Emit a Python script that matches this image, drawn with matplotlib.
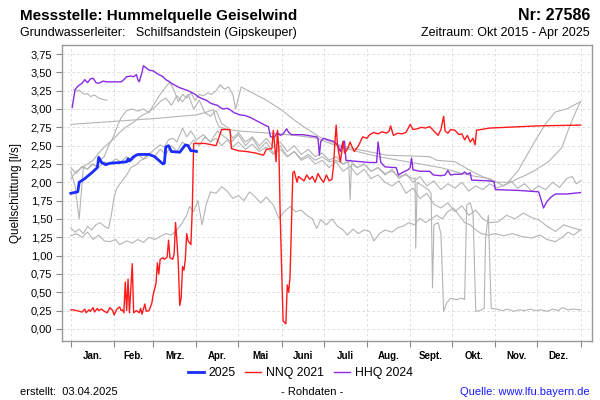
import matplotlib
matplotlib.use("Agg")
import matplotlib.pyplot as plt
from matplotlib.ticker import FuncFormatter, FixedLocator

plt.rcParams['font.family'] = ['Liberation Sans', 'DejaVu Sans']

# Monatsgrenzen (Tag im Jahr) und Beschriftung
month_starts = [0, 31, 59, 90, 120, 151, 181, 212, 243, 273, 304, 334, 365]
month_names = ['Jan.', 'Feb.', 'Mrz.', 'Apr.', 'Mai', 'Juni', 'Juli', 'Aug.',
               'Sept.', 'Okt.', 'Nov.', 'Dez.']
y_ticks = [0.0, 0.25, 0.5, 0.75, 1.0, 1.25, 1.5, 1.75, 2.0, 2.25, 2.5, 2.75,
           3.0, 3.25, 3.5, 3.75]

# 2025
q2025_days = [0, 5, 6, 10, 15, 19, 20, 22, 25, 28, 35, 40, 41, 42, 45, 48, 56,
              60, 63, 66, 67, 68, 70, 72, 78, 80, 82, 84, 86, 88, 90]
q2025_vals = [1.85, 1.87, 2.0, 2.05, 2.13, 2.2, 2.34, 2.27, 2.24, 2.26, 2.27,
              2.28, 2.32, 2.29, 2.35, 2.38, 2.38, 2.35, 2.3, 2.25, 2.26, 2.48,
              2.5, 2.42, 2.41, 2.46, 2.51, 2.5, 2.43, 2.43, 2.42]

# NNQ 2021
nnq_days = [0, 2, 4, 6, 8, 10, 11, 13, 14, 16, 17, 19, 20, 22, 24, 26, 28, 30,
            31, 33, 35, 36, 37, 38, 39, 40, 41, 42, 44, 45, 47, 49, 50, 51, 53,
            54, 56, 58, 59, 61, 62, 63, 64, 66, 67, 69, 70, 71, 73, 74, 75, 76,
            77, 78, 79, 80, 81, 82, 83, 84, 86, 87, 88, 96, 104, 108, 114, 115,
            120, 126, 132, 138, 140, 144, 145, 146, 147, 148, 149, 150, 152,
            154, 155, 156, 157, 159, 160, 162, 163, 165, 167, 169, 171, 173,
            175, 177, 179, 181, 183, 185, 187, 188, 189, 190, 191, 193, 195,
            196, 198, 200, 201, 203, 206, 209, 212, 214, 217, 220, 223, 226,
            228, 229, 231, 234, 237, 240, 243, 245, 248, 251, 254, 257, 260,
            263, 265, 267, 268, 270, 272, 275, 278, 280, 282, 284, 286, 288,
            289.5, 290.5, 300, 335, 365]
nnq_vals = [0.26, 0.26, 0.25, 0.24, 0.23, 0.27, 0.22, 0.26, 0.24, 0.29, 0.23,
            0.28, 0.25, 0.27, 0.24, 0.22, 0.29, 0.25, 0.19, 0.27, 0.30, 0.25,
            0.26, 0.22, 0.64, 0.25, 0.68, 0.22, 0.89, 0.22, 0.25, 0.22, 0.28,
            0.20, 0.34, 0.24, 0.25, 0.35, 0.47, 0.62, 0.90, 0.75, 0.95, 0.97,
            0.95, 0.98, 1.21, 0.97, 0.95, 1.02, 1.45, 1.2, 0.88, 0.32, 0.42,
            0.85, 0.8, 0.95, 1.3, 1.2, 1.15, 1.65, 2.53, 2.53, 2.50, 2.72,
            2.72, 2.46, 2.43, 2.42, 2.40, 2.37, 2.45, 2.46, 2.71, 2.5, 2.28,
            2.71, 2.45, 1.5, 0.11, 0.07, 0.6, 0.5, 0.72, 2.13, 2.15, 2.0, 2.08,
            2.05, 2.02, 2.1, 2.04, 2.08, 2.0, 2.12, 2.05, 2.0, 2.1, 2.02, 2.04,
            2.2, 2.51, 2.78, 2.5, 2.28, 2.55, 2.4, 2.45, 2.55, 2.5, 2.42, 2.5,
            2.62, 2.6, 2.65, 2.68, 2.66, 2.69, 2.67, 2.7, 2.77, 2.64, 2.67,
            2.66, 2.68, 2.79, 2.72, 2.73, 2.75, 2.74, 2.76, 2.7, 2.64, 2.72,
            2.9, 2.7, 2.67, 2.72, 2.71, 2.65, 2.66, 2.58, 2.64, 2.55, 2.6,
            2.51, 2.71, 2.74, 2.77, 2.78]

# HHQ 2024
hhq_days = [1, 3, 5, 8, 10, 12, 14, 16, 18, 20, 23, 26, 30, 36, 38, 40, 43, 45,
            47, 48, 49, 51, 52, 54, 56, 59, 62, 64, 66, 68, 70, 72, 75, 78, 81,
            84, 87, 89, 91, 94, 97, 100, 103, 105, 107, 109, 112, 114, 117, 121,
            125, 129, 133, 137, 140, 141.5, 143, 146, 148, 150, 152, 154.6, 156,
            158, 166, 176, 177, 178, 179, 181, 184, 188, 191, 193, 195, 196,
            197, 202, 214, 219, 220, 222, 225, 233, 234.6, 238, 241.5, 243, 244,
            245, 250, 257, 259.6, 265, 268, 270, 272, 275, 280, 282, 284, 286,
            287, 299, 303, 304, 320, 335, 338.5, 341, 344, 347, 355, 365]
hhq_vals = [3.02, 3.26, 3.31, 3.35, 3.40, 3.36, 3.41, 3.42, 3.36, 3.35, 3.38,
            3.37, 3.37, 3.37, 3.40, 3.44, 3.45, 3.44, 3.47, 3.40, 3.37, 3.50,
            3.59, 3.56, 3.53, 3.52, 3.48, 3.46, 3.44, 3.40, 3.38, 3.35, 3.32,
            3.29, 3.27, 3.25, 3.22, 3.20, 3.17, 3.14, 3.12, 3.08, 3.06, 3.05,
            3.02, 3.0, 3.01, 2.99, 2.95, 2.92, 2.91, 2.88, 2.84, 2.8, 2.77,
            2.76, 2.62, 2.62, 2.68, 2.64, 2.66, 2.73, 2.68, 2.65, 2.65, 2.62,
            2.6, 2.37, 2.56, 2.6, 2.58, 2.56, 2.51, 2.42, 2.56, 2.56, 2.30,
            2.29, 2.27, 2.27, 2.55, 2.27, 2.21, 2.20, 2.10, 2.14, 2.17, 2.2,
            2.33, 2.17, 2.15, 2.15, 2.10, 2.09, 2.1, 2.16, 2.1, 2.11, 2.11,
            2.14, 2.11, 2.13, 2.03, 2.02, 2.01, 1.90, 1.89, 1.87, 1.65, 1.74,
            1.8, 1.84, 1.84, 1.86]

# übrige Jahre (grau)
grey_a_days = [2, 4, 6, 8, 10, 12, 14, 17, 20, 23, 26]
grey_a_vals = [3.27, 3.24, 3.26, 3.22, 3.2, 3.21, 3.17, 3.19, 3.15, 3.13, 3.12]

grey_b_days = [0, 30, 60, 90, 96, 102, 104, 106, 112, 120, 135, 150, 165, 176,
               190, 205, 220, 235, 250, 265, 280, 290, 300, 305, 310, 315, 320,
               325, 330, 335, 340, 345, 350, 355, 359, 362, 365]
grey_b_vals = [2.79, 2.83, 2.87, 2.92, 2.95, 2.99, 2.85, 2.76, 2.72, 2.70, 2.68,
               2.66, 2.63, 2.60, 2.5, 2.42, 2.35, 2.3, 2.25, 2.2, 2.12, 2.08,
               2.05, 2.0, 1.95, 2.02, 1.92, 1.98, 1.88, 1.95, 1.9, 2.0, 1.93,
               2.05, 2.08, 1.98, 2.02]

grey_c_days = [0, 3, 6, 9, 12, 15, 18, 21, 24, 27, 30, 33, 36, 40, 44, 48, 52,
               56, 60, 64, 68, 71, 74, 77, 80, 83, 86, 89, 92, 95, 98, 101, 104,
               107, 110, 113, 116, 118, 120, 122, 130, 140, 150, 160, 165, 178,
               190, 202, 226, 257, 262, 275, 290, 304, 313, 320, 332, 340, 347,
               355, 360, 365]
grey_c_vals = [2.15, 1.95, 1.5, 2.2, 2.18, 2.25, 2.22, 2.3, 2.35, 2.5, 2.6,
               2.75, 2.88, 2.98, 3.0, 2.97, 3.0, 2.95, 3.08, 3.2, 3.3, 3.37,
               3.25, 3.1, 3.2, 3.15, 3.22, 3.12, 3.2, 3.18, 3.22, 3.2, 3.25,
               3.33, 3.27, 3.3, 3.2, 3.0, 3.15, 3.3, 3.22, 3.12, 3.0, 2.85, 2.78,
               2.62, 2.52, 2.46, 2.37, 2.35, 2.3, 2.28, 2.12, 2.0, 2.0, 2.15,
               2.55, 2.8, 2.96, 3.0, 3.05, 3.1]

grey_d_days = [0, 4, 8, 12, 16, 20, 25, 30, 35, 40, 45, 50, 55, 60, 64, 68, 72,
               76, 80, 84, 88, 92, 96, 100, 104, 108, 112, 116, 120, 125, 130,
               135, 140, 145, 150, 155, 160, 165, 170, 175, 180, 185, 190, 195,
               200, 205, 210, 215, 220, 225, 230, 235, 240, 245, 250, 255, 260,
               265, 270, 275, 280, 285, 290, 295, 300, 305, 310, 315, 320, 326,
               332, 337, 342, 347, 351.5, 355, 358.6, 362, 365]
grey_d_vals = [2.05, 2.15, 2.2, 2.25, 2.3, 2.4, 2.5, 2.58, 2.68, 2.76, 2.82,
               2.9, 2.95, 3.02, 3.1, 3.15, 3.05, 3.18, 3.1, 3.2, 3.0, 3.12, 2.95,
               2.9, 2.98, 2.8, 2.75, 2.6, 2.68, 2.55, 2.62, 2.5, 2.6, 2.48, 2.55,
               2.42, 2.5, 2.38, 2.45, 2.35, 2.4, 2.3, 2.35, 2.25, 2.3, 2.2, 2.25,
               2.15, 2.2, 2.1, 2.18, 2.05, 2.12, 2.0, 2.08, 1.95, 2.02, 1.9, 1.98,
               1.92, 2.0, 1.88, 1.95, 1.9, 1.98, 1.92, 1.96, 2.0, 2.05, 2.1,
               2.16, 2.22, 2.28, 2.38, 2.47, 2.65, 2.83, 2.98, 3.1]

grey_e_days = [0, 3, 6, 9, 12, 15, 18, 21, 24, 27, 29, 31, 33, 36, 40, 43, 47,
               50, 54, 57, 60, 64, 67, 70, 73, 76, 80, 83, 86, 90, 95, 100, 105,
               110, 115, 120, 125, 130, 135, 140, 145, 150, 155, 160, 165, 170,
               175, 180, 185, 190, 195, 200, 205, 210, 215, 220, 225, 230, 235,
               240, 245, 250, 255, 260, 265, 270, 275, 280, 285, 290, 295, 300,
               306, 312, 318, 324, 330, 335, 341, 347, 353, 359, 365]
grey_e_vals = [1.38, 1.32, 1.36, 1.3, 1.4, 1.35, 1.42, 1.45, 1.4, 1.37, 1.55,
               1.8, 1.92, 2.0, 2.1, 2.2, 2.24, 2.3, 2.33, 2.4, 2.45, 2.51, 2.48,
               2.58, 2.6, 2.55, 2.74, 2.62, 2.7, 2.58, 2.65, 2.55, 2.7, 2.62,
               2.55, 2.65, 2.5, 2.6, 2.45, 2.55, 2.4, 2.5, 2.35, 2.42, 2.3, 2.35,
               2.25, 2.3, 2.2, 2.28, 2.15, 2.22, 2.1, 2.18, 2.05, 2.1, 2.0, 1.95,
               2.02, 1.85, 1.92, 1.78, 1.85, 1.7, 1.65, 1.72, 1.6, 1.68, 1.55,
               1.62, 1.5, 1.45, 1.46, 1.55, 1.5, 1.58, 1.52, 1.49, 1.4, 1.33,
               1.42, 1.38, 1.35]

grey_f_days = [0, 4, 8, 12, 16, 20, 24, 28, 32, 35, 40, 44, 48, 52, 56, 60, 64,
               68, 72, 76, 80, 83, 85, 88, 91, 94, 97, 100, 104, 108, 112, 116,
               120, 124, 128, 132, 136, 140, 145, 149, 153, 157, 161, 165, 169,
               173, 176, 179, 183, 187, 191, 195, 198, 202, 206, 210, 214, 217,
               221, 225, 230, 234, 238, 242, 246, 250, 254, 258, 262, 266, 270,
               274, 278, 282, 286, 290, 294, 299, 304, 310, 316, 323, 330, 336,
               341, 347, 352, 356, 360, 365]
grey_f_vals = [1.27, 1.3, 1.25, 1.32, 1.22, 1.28, 1.2, 1.19, 1.22, 1.15, 1.2,
               1.17, 1.22, 1.18, 1.25, 1.22, 1.26, 1.3, 1.28, 1.35, 1.45, 1.55,
               1.67, 1.6, 1.75, 1.42, 1.7, 1.87, 1.85, 1.94, 1.88, 1.78, 1.82,
               1.75, 1.87, 1.8, 1.72, 1.8, 1.69, 1.51, 1.6, 1.67, 1.6, 1.62,
               1.55, 1.5, 1.37, 1.49, 1.42, 1.5, 1.4, 1.35, 1.28, 1.36, 1.3,
               1.35, 1.33, 1.2, 1.3, 1.35, 1.32, 1.38, 1.4, 1.45, 1.42, 1.51,
               1.45, 1.5, 1.55, 1.5, 1.6, 1.65, 1.55, 1.45, 1.42, 1.35, 1.3,
               1.28, 1.3, 1.27, 1.3, 1.26, 1.24, 1.28, 1.22, 1.19, 1.25, 1.32,
               1.28, 1.35]

grey_g_days = [0, 4, 8, 12, 16, 20, 24, 28, 32, 36, 40, 44, 48, 52, 56, 60, 64,
               68, 72, 76, 80, 84, 88, 92, 96, 100, 104, 108, 112, 116, 120, 125,
               130, 135, 140, 145, 150, 155, 160, 165, 170, 175, 180, 185, 190,
               195, 199, 200, 201, 205, 210, 215, 220, 225, 230, 235, 240, 245,
               246.5, 247, 248, 252, 256, 258, 259, 260, 263, 265, 267, 269, 272,
               276, 280, 282, 283.5, 286, 288, 290, 293, 296, 297, 299, 301, 305,
               309, 313, 317, 321, 325, 329, 333, 337, 341, 345, 349, 352, 356,
               360, 365]
grey_g_vals = [2.2, 2.12, 2.22, 2.18, 2.25, 2.2, 2.28, 2.25, 2.32, 2.28, 2.35,
               2.3, 2.38, 2.32, 2.4, 2.35, 2.45, 2.38, 2.5, 2.42, 2.55, 2.48,
               2.58, 2.5, 2.62, 2.55, 2.6, 2.5, 2.58, 2.48, 2.55, 2.45, 2.52,
               2.42, 2.48, 2.38, 2.45, 2.35, 2.42, 2.32, 2.38, 2.3, 2.35, 2.28,
               2.3, 2.25, 2.28, 1.76, 2.25, 2.2, 2.25, 2.15, 2.2, 2.12, 2.15,
               2.08, 2.1, 2.05, 2.06, 1.1, 2.0, 1.95, 1.9, 1.85, 0.56, 1.42,
               1.45, 1.3, 0.24, 0.35, 0.42, 0.4, 0.42, 0.4, 1.69, 1.72, 1.58,
               0.24, 0.25, 0.28, 1.24, 1.55, 0.28, 0.27, 0.25, 0.27, 0.24, 0.26,
               0.25, 0.27, 0.25, 0.26, 0.24, 0.27, 0.25, 0.29, 0.26, 0.27, 0.26]

grey_series = [(grey_a_days, grey_a_vals), (grey_b_days, grey_b_vals),
               (grey_c_days, grey_c_vals), (grey_d_days, grey_d_vals),
               (grey_e_days, grey_e_vals), (grey_f_days, grey_f_vals),
               (grey_g_days, grey_g_vals)]

fig = plt.figure(figsize=(6, 4), dpi=100)
ax = fig.add_axes([62 / 600, 1 - 341 / 400, 530 / 600, 296 / 400])

for d, v in grey_series:
    ax.plot(d, v, color='#b4b4b4', lw=0.8, zorder=2)

ax.plot(hhq_days, hhq_vals, color='#8a2be2', lw=1.0, zorder=3, label='HHQ 2024')
ax.plot(nnq_days, nnq_vals, color='#ff1a1a', lw=1.0, zorder=4, label='NNQ 2021')
ax.plot(q2025_days, q2025_vals, color='#1a2cff', lw=2.0, zorder=5, label='2025')

ax.set_xlim(-6.3, 373.2)
ax.set_ylim(-0.165, 3.873)

ax.yaxis.set_major_locator(FixedLocator(y_ticks))
ax.yaxis.set_major_formatter(FuncFormatter(lambda v, _: f"{v:.2f}".replace('.', ',')))
ax.xaxis.set_major_locator(FixedLocator(month_starts))
ax.set_xticklabels([])
mid = [(month_starts[i] + month_starts[i + 1]) / 2 for i in range(12)]
ax.set_xticks(mid, minor=True)
ax.set_xticklabels(month_names, minor=True, fontsize=7, fontweight='bold')
ax.tick_params(axis='x', which='minor', length=0, pad=7)
ax.tick_params(axis='x', which='major', length=4, color='#888888')
ax.tick_params(axis='y', length=4, color='#888888', labelsize=8, pad=3)

ax.grid(True, which='major', color='#d8d8d8', ls=(0, (3, 3)), lw=0.6)
for s in ax.spines.values():
    s.set_color('#999999')
    s.set_linewidth(1.0)

ax.set_ylabel('Quellschüttung [l/s]', fontsize=8.5, labelpad=6)

h, l = ax.get_legend_handles_labels()
order = [2, 1, 0]
fig.legend([h[i] for i in order], [l[i] for i in order], loc='center',
           bbox_to_anchor=(0.5, 0.0675), ncol=3, frameon=False, fontsize=8.8,
           handlelength=1.3, handletextpad=0.4, columnspacing=0.8)

fig.text(20 / 600, 1 - 16 / 400, 'Messstelle: Hummelquelle Geiselwind',
         fontsize=11, fontweight='bold', ha='left', va='center')
fig.text(590 / 600, 1 - 16 / 400, 'Nr: 27586', fontsize=11.5,
         fontweight='bold', ha='right', va='center')
fig.text(20 / 600, 1 - 33 / 400, 'Grundwasserleiter:   Schilfsandstein (Gipskeuper)',
         fontsize=9, ha='left', va='center')
fig.text(590 / 600, 1 - 33 / 400, 'Zeitraum: Okt 2015 - Apr 2025',
         fontsize=9, ha='right', va='center')
fig.text(20 / 600, 1 - 392 / 400, 'erstellt:  03.04.2025', fontsize=8,
         ha='left', va='center')
fig.text(312 / 600, 1 - 392 / 400, '- Rohdaten -', fontsize=8,
         ha='center', va='center')
fig.text(590 / 600, 1 - 392 / 400, 'Quelle: www.lfu.bayern.de', fontsize=8,
         ha='right', va='center', color='#1a1aff')

fig.savefig('out.png', dpi=100)
